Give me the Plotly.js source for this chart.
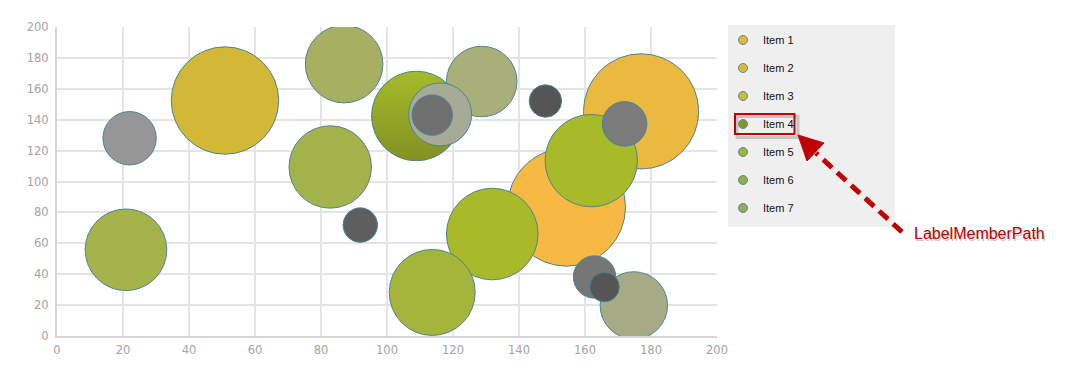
<!DOCTYPE html>
<html>
<head>
<meta charset="utf-8">
<script src="https://cdn.plot.ly/plotly-3.0.1.min.js"></script>
<style>html,body{margin:0;padding:0;background:#fff;}#chart{width:1074px;height:370px;}</style>
</head>
<body>
<div id="chart"></div>
<script>
// Bubble data (draw order)
const xValues = [22.0, 20.9, 50.9, 87.0, 82.8, 91.9, 128.7, 108.9, 116.1, 113.7, 148.0, 154.4, 131.9, 113.7, 177.0, 161.9, 172.0, 174.8, 162.9, 165.9];
const yValues = [128.0, 55.8, 152.4, 176.0, 109.4, 71.8, 164.7, 142.4, 143.4, 143.0, 152.1, 83.4, 66.0, 28.2, 145.4, 113.5, 137.3, 19.8, 38.2, 31.7];
const radiusValues = [26.7, 40.8, 53.7, 38.8, 41.2, 17.2, 35.3, 44.8, 31.5, 20.2, 16.2, 59.0, 45.8, 43.0, 57.6, 46.2, 22.3, 33.7, 21.2, 14.8];
const fillColors = ['#969696', '#a6b34b', '#d3b838', '#a7b062', '#a3b24b', '#5e5e5e', '#a8af78', '#a6bb2a', '#a6aa96', '#6f6f6f', '#555555', '#f7b944', '#a8b92a', '#a5b43a', '#ebb940', '#a8ba29', '#7b7b7b', '#a6ab86', '#767676', '#555555'];
const gradientTypes = ['none','none','none','none','none','none','none','vertical','none','none','none','none','none','none','none','none','none','none','none','none'];
const gradientColors = ['#969696', '#a6b34b', '#d3b838', '#a7b062', '#a3b24b', '#5e5e5e', '#a8af78', '#839122', '#a6aa96', '#6f6f6f', '#555555', '#f7b944', '#a8b92a', '#a5b43a', '#ebb940', '#a8ba29', '#7b7b7b', '#a6ab86', '#767676', '#555555'];

// Legend
const legendLabels = ['Item 1', 'Item 2', 'Item 3', 'Item 4', 'Item 5', 'Item 6', 'Item 7'];
const legendColors = ['#e0b83a', '#dcb83c', '#c6bd3a', '#7f9a2b', '#9db43c', '#94ad4e', '#93ab5c'];

// Axis ticks
const tickValues = [0, 20, 40, 60, 80, 100, 120, 140, 160, 180, 200];
const tickLabels = ['0', '20', '40', '60', '80', '100', '120', '140', '160', '180', '200'];

const calloutText = 'LabelMemberPath';

const W = 1074, H = 370;
const M = {l: 57, r: 357, t: 27, b: 34};
const PW = W - M.l - M.r, PH = H - M.t - M.b;
// convert figure pixel coords to plot-area paper coords
const px = v => (v - M.l) / PW;
const py = v => (H - M.b - v) / PH;

const trace = {
  type: 'scatter', mode: 'markers',
  x: xValues, y: yValues,
  showlegend: false, hoverinfo: 'x+y',
  marker: {
    size: radiusValues, sizemode: 'diameter', sizeref: 0.5,
    color: fillColors, opacity: 1,
    gradient: {type: gradientTypes, color: gradientColors},
    line: {color: '#4a8595', width: 1}
  }
};

const shapes = [];
const annotations = [];
// legend background
shapes.push({type: 'rect', xref: 'paper', yref: 'paper', x0: px(728), x1: px(895), y0: py(227), y1: py(25), fillcolor: '#efefef', line: {width: 0}, layer: 'above'});
legendLabels.forEach((lab, i) => {
  const cy = 40 + i * 28;
  shapes.push({type: 'circle', xref: 'paper', yref: 'paper', x0: px(738.5), x1: px(747.5), y0: py(cy + 4.5), y1: py(cy - 4.5), fillcolor: legendColors[i], line: {color: '#5d8a96', width: 1}, layer: 'above'});
  annotations.push({xref: 'paper', yref: 'paper', x: px(761), y: py(cy), xanchor: 'left', yanchor: 'middle', text: lab, showarrow: false, font: {family: 'Liberation Sans, Arial, sans-serif', size: 11, color: '#111111'}});
});
// highlight box shadow + box
shapes.push({type: 'rect', xref: 'paper', yref: 'paper', x0: px(737), x1: px(798), y0: py(137.5), y1: py(116.5), fillcolor: 'rgba(0,0,0,0)', line: {color: 'rgba(120,120,120,0.35)', width: 3}, layer: 'above'});
shapes.push({type: 'rect', xref: 'paper', yref: 'paper', x0: px(735), x1: px(794.5), y0: py(134), y1: py(114), fillcolor: 'rgba(0,0,0,0)', line: {color: '#c00000', width: 2}, layer: 'above'});
// dashed arrow line
shapes.push({type: 'line', xref: 'paper', yref: 'paper', x0: px(902), y0: py(232), x1: px(816), y1: py(153), line: {color: '#c00000', width: 5, dash: '12px,7px'}, layer: 'above'});
// arrow head
shapes.push({type: 'path', xref: 'paper', yref: 'paper', path: `M ${px(798)} ${py(135)} L ${px(824)} ${py(143)} L ${px(807)} ${py(161)} Z`, fillcolor: '#c00000', line: {color: '#c00000', width: 1}, layer: 'above'});
// callout text (shadow + text)
annotations.push({xref: 'paper', yref: 'paper', x: px(981), y: py(235), xanchor: 'center', yanchor: 'middle', text: calloutText, showarrow: false, font: {family: 'Liberation Sans, Arial, sans-serif', size: 16, color: 'rgba(90,90,90,0.35)'}});
annotations.push({xref: 'paper', yref: 'paper', x: px(979), y: py(233), xanchor: 'center', yanchor: 'middle', text: calloutText, showarrow: false, font: {family: 'Liberation Sans, Arial, sans-serif', size: 16, color: '#c00000'}});

const axisFont = {family: 'DejaVu Sans, Verdana, sans-serif', size: 11.5, color: '#a3a3a3'};
const layout = {
  width: W, height: H,
  margin: {l: M.l, r: M.r, t: M.t, b: M.b, pad: 0},
  paper_bgcolor: '#ffffff', plot_bgcolor: '#ffffff',
  xaxis: {range: [0, 200], tickvals: tickValues, ticktext: tickLabels, showgrid: true, gridcolor: '#e4e4e4', gridwidth: 2, zeroline: false, showline: true, linecolor: '#d6d6d6', linewidth: 2, ticks: 'outside', ticklen: 2, tickcolor: 'rgba(0,0,0,0)', tickfont: axisFont, fixedrange: true, mirror: false},
  yaxis: {range: [0, 200], tickvals: tickValues, ticktext: tickLabels, showgrid: true, gridcolor: '#e4e4e4', gridwidth: 2, zeroline: false, showline: true, linecolor: '#d6d6d6', linewidth: 2, ticks: 'outside', ticklen: 4, tickcolor: 'rgba(0,0,0,0)', tickfont: axisFont, fixedrange: true},
  shapes: shapes, annotations: annotations,
  showlegend: false, hovermode: 'closest'
};

Plotly.newPlot('chart', [trace], layout, {displayModeBar: false, staticPlot: true});
</script>
</body>
</html>
